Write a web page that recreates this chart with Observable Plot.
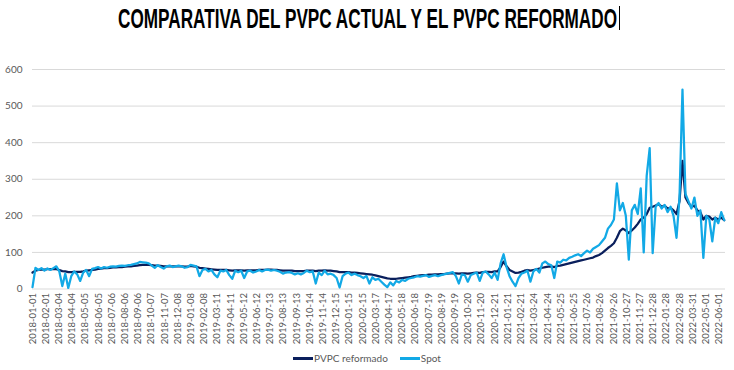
<!DOCTYPE html>
<html>
<head>
<meta charset="utf-8">
<script src="https://cdn.jsdelivr.net/npm/d3@7"></script>
<script src="https://cdn.jsdelivr.net/npm/@observablehq/plot@0.6"></script>
<style>
  html, body { margin: 0; padding: 0; background: #fff; }
  #wrap { position: relative; width: 734px; height: 370px; overflow: hidden; background: #fff; }
  #title { position: absolute; top: 6px; left: 0; width: 734px; height: 30px; }
  #title span { position: absolute; left: 0; top: 0; white-space: nowrap; font: bold 27px/27px "Liberation Sans Narrow", "Liberation Sans", Arial, sans-serif; color: #000; transform-origin: 0 0; }
  #cursor { position: absolute; top: 6px; width: 1px; height: 24px; background: #000; }
  #chart { position: absolute; top: 40px; left: 0; }
  #legend { position: absolute; top: 350px; left: 0; width: 734px; height: 16px; display: flex; justify-content: center; align-items: center; font: 10px "Lato", sans-serif; color: #595959; }
  .item { display: flex; align-items: center; margin: 0 6px; }
  .sw { width: 20px; height: 3px; margin-right: 1px; }
</style>
</head>
<body>
<div id="wrap">
  <div id="title"><span>COMPARATIVA DEL PVPC ACTUAL Y EL PVPC REFORMADO</span></div>
  <div id="cursor"></div>
  <div id="chart"></div>
  <div id="legend"></div>
</div>
<script>
// Weekly samples starting 2018-01-01 (Mondays)
const firstDate = "2018-01-01";
const seriesNames = ["PVPC reformado", "Spot"];
const seriesColors = ["#0a1f5c", "#12a9e6"];
const yTicks = [0, 100, 200, 300, 400, 500, 600];
const xTickLabels = [
  "2018-01-01","2018-02-01","2018-03-04","2018-04-04","2018-05-05","2018-06-05","2018-07-06","2018-08-06",
  "2018-09-06","2018-10-07","2018-11-07","2018-12-08","2019-01-08","2019-02-08","2019-03-11","2019-04-11",
  "2019-05-12","2019-06-12","2019-07-13","2019-08-13","2019-09-13","2019-10-14","2019-11-14","2019-12-15",
  "2020-01-15","2020-02-15","2020-03-17","2020-04-17","2020-05-18","2020-06-18","2020-07-19","2020-08-19",
  "2020-09-19","2020-10-20","2020-11-20","2020-12-21","2021-01-21","2021-02-21","2021-03-24","2021-04-24",
  "2021-05-25","2021-06-25","2021-07-26","2021-08-26","2021-09-26","2021-10-27","2021-11-27","2021-12-28",
  "2022-01-28","2022-02-28","2022-03-31","2022-05-01","2022-06-01"
];

const spot = [
  // 2018
  5,58,52,57,50,56,52,57,62,48,8,42,3,35,48,40,22,45,52,35,55,57,60,56,60,58,61,62,61,63,64,63,65,66,68,70,74,73,72,70,64,58,65,60,56,62,64,60,62,64,62,58,60,
  // 2019
  66,64,62,35,52,55,48,52,40,32,50,48,52,38,28,50,46,50,30,48,50,45,48,52,48,52,53,50,52,50,47,42,45,46,44,40,43,40,44,50,46,48,15,45,38,50,40,42,38,30,4,35,
  // 2020
  42,45,38,42,38,35,30,36,15,32,25,28,20,12,5,18,10,22,18,25,22,28,30,32,35,34,36,38,33,36,38,35,38,40,42,44,46,35,15,40,38,20,38,42,45,22,45,48,40,30,45,25,
  // 2021
  70,95,60,35,20,8,30,42,45,50,20,48,55,45,70,75,68,65,30,75,72,80,78,85,88,92,95,90,98,105,100,110,115,120,130,140,165,175,190,289,215,235,200,80,215,230,205,275,100,310,385,98,
  // 2022
  225,235,220,230,210,225,200,140,250,545,260,240,220,250,200,215,85,200,190,130,195,180,210,188
];

const reformado = [
  // 2018
  45,50,52,53,53,54,54,54,54,52,49,48,46,46,47,47,47,48,50,51,52,53,55,56,57,57,58,59,59,60,60,61,62,62,63,64,65,66,66,66,65,64,64,63,62,62,62,62,62,62,62,61,61,
  // 2019
  63,62,61,58,57,56,55,54,53,52,52,52,52,51,50,51,51,51,50,51,51,51,51,52,52,52,53,53,52,52,51,50,50,50,50,49,49,49,49,50,50,50,49,50,50,51,50,50,49,48,46,46,
  // 2020
  46,46,45,45,44,43,42,41,40,39,37,35,33,31,29,28,28,28,29,30,31,32,33,35,36,37,38,38,39,39,40,40,41,41,42,43,43,43,42,43,43,42,43,44,45,44,46,47,47,46,48,48,
  // 2021
  60,75,62,52,48,44,45,47,50,52,50,52,54,56,58,60,61,62,60,63,64,66,68,70,72,74,76,78,80,82,84,86,90,93,98,105,112,118,125,140,158,165,160,153,160,168,178,190,195,205,222,225,
  // 2022
  228,232,225,228,220,222,215,205,240,350,250,235,225,228,215,210,190,200,198,190,195,190,195,188
];

const DAY = 864e5;
const t0 = Date.parse(firstDate + "T00:00:00Z");
const rows = spot.map((v, i) => ({
  fecha: new Date(t0 + i * 7 * DAY),
  spot: v,
  reformado: reformado[i]
}));

const fmt = d3.utcFormat("%Y-%m-%d");

const chart = Plot.plot({
  width: 734,
  height: 310,
  marginLeft: 32,
  marginRight: 9,
  marginTop: 29,
  marginBottom: 61.5,
  style: { fontFamily: "Lato, sans-serif", color: "#595959", background: "transparent", overflow: "visible" },
  x: { type: "utc", domain: [new Date("2018-01-01T00:00:00Z"), new Date("2022-06-16T00:00:00Z")] },
  y: { domain: [0, 600] },
  marks: [
    Plot.ruleY(yTicks, { stroke: "#d9d9d9", strokeWidth: 1 }),
    Plot.axisY({ ticks: yTicks, tickSize: 0, tickPadding: 10, fontSize: 10, label: null }),
    Plot.axisX({
      ticks: xTickLabels.map(s => new Date(s + "T00:00:00Z")),
      tickFormat: d => fmt(d),
      tickRotate: -90,
      tickSize: 0,
      tickPadding: 4,
      fontSize: 9.5,
      label: null
    }),
    Plot.line(rows, { x: "fecha", y: "reformado", stroke: seriesColors[0], strokeWidth: 2.25, strokeLinejoin: "round" }),
    Plot.line(rows, { x: "fecha", y: "spot", stroke: seriesColors[1], strokeWidth: 2.25, strokeLinejoin: "round" })
  ]
});
document.getElementById("chart").appendChild(chart);

// Legend
const legend = document.getElementById("legend");
seriesNames.forEach((name, i) => {
  const item = document.createElement("div");
  item.className = "item";
  const sw = document.createElement("div");
  sw.className = "sw";
  sw.style.background = seriesColors[i];
  const tx = document.createElement("span");
  tx.textContent = name;
  item.appendChild(sw);
  item.appendChild(tx);
  legend.appendChild(item);
});

// Title: fit the condensed bold title between x=118 and x=617
const span = document.querySelector("#title span");
const w = span.getBoundingClientRect().width;
const targetW = 499;
const s = targetW / w;
span.style.transform = "scaleX(" + s + ")";
span.style.left = "118px";
document.getElementById("cursor").style.left = (118 + targetW + 2) + "px";
</script>
</body>
</html>
